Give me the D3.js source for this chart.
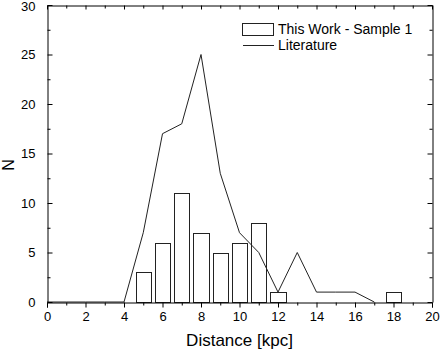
<!DOCTYPE html>
<html>
<head>
<meta charset="utf-8">
<script src="https://cdn.jsdelivr.net/npm/d3@7"></script>
<style>
  body { margin: 0; background: #fff; }
  svg text { font-family: "Liberation Sans", Arial, Helvetica, sans-serif; fill: #000; }
</style>
</head>
<body>
<div id="chart"></div>
<script>
// histogram, this work
var binCenters = [5, 6, 7, 8, 9, 10, 11, 12, 18];
var binCounts  = [3, 6, 11, 7, 5, 6, 8, 1, 1];
// literature curve
var litDistance = [0, 1, 2, 3, 4, 5, 6, 7, 8, 9, 10, 11, 12, 13, 14, 15, 16, 17];
var litCounts   = [0, 0, 0, 0, 0, 7, 17, 18, 25, 13, 7, 5, 1, 5, 1, 1, 1, 0];
var xTicks = [0, 2, 4, 6, 8, 10, 12, 14, 16, 18, 20];
var yTicks = [0, 5, 10, 15, 20, 25, 30];

var width = 441, height = 354;
var margin = {top: 5, right: 9, bottom: 52, left: 47};

var svg = d3.select("#chart").append("svg")
    .attr("width", width)
    .attr("height", height);

var x = d3.scaleLinear().domain([0, 20]).range([margin.left, width - margin.right]);
var y = d3.scaleLinear().domain([0, 30]).range([height - margin.bottom, margin.top]);

var binWidth = 0.8;

// bars
svg.selectAll("rect.bar")
    .data(binCenters)
    .enter()
    .append("rect")
    .attr("class", "bar")
    .attr("x", function(d){ return Math.round(x(d - binWidth/2)) + 0.5; })
    .attr("width", function(d){ return Math.round(x(d + binWidth/2)) - Math.round(x(d - binWidth/2)); })
    .attr("y", function(d, i){ return Math.round(y(binCounts[i])) + 0.5; })
    .attr("height", function(d, i){ return Math.round(y(0)) - Math.round(y(binCounts[i])); })
    .attr("fill", "#fff")
    .attr("stroke", "#222")
    .attr("stroke-width", 1);

// literature line
var line = d3.line()
    .x(function(d, i){ return x(d); })
    .y(function(d, i){ return y(litCounts[i]); });

svg.append("path")
    .datum(litDistance)
    .attr("d", line)
    .attr("fill", "none")
    .attr("stroke", "#222")
    .attr("stroke-width", 1);

// axes: bottom ticks out, the other three in
var xMinor = d3.range(0, 21, 1);
var yMinor = d3.range(0, 31, 2.5);

svg.append("g")
    .attr("transform", "translate(0," + (y(0) + 0.5) + ")")
    .call(d3.axisBottom(x).tickValues(xTicks).tickSize(5).tickPadding(4).tickFormat(d3.format("d")));
svg.append("g")
    .attr("transform", "translate(0," + (y(0) + 0.5) + ")")
    .call(d3.axisBottom(x).tickValues(xMinor.filter(function(d){ return d % 2; })).tickSize(3).tickFormat(""))
    .select(".domain").remove();

var left = svg.append("g")
    .attr("transform", "translate(" + (x(0) + 0.5) + ",0)")
    .call(d3.axisLeft(y).tickValues(yTicks).tickSizeInner(-5).tickSizeOuter(0).tickPadding(12));
// keep the top label inside the window
left.selectAll(".tick text").filter(function(d){ return d === 30; }).attr("dy", "0.45em");
svg.append("g")
    .attr("transform", "translate(" + (x(0) + 0.5) + ",0)")
    .call(d3.axisLeft(y).tickValues(yMinor.filter(function(d){ return d % 5; })).tickSize(-3).tickFormat(""))
    .select(".domain").remove();

svg.append("g")
    .attr("transform", "translate(0," + (y(30) + 0.5) + ")")
    .call(d3.axisTop(x).tickValues(xTicks).tickSizeInner(-4).tickSizeOuter(0).tickFormat(""));
svg.append("g")
    .attr("transform", "translate(0," + (y(30) + 0.5) + ")")
    .call(d3.axisTop(x).tickValues(xMinor.filter(function(d){ return d % 2; })).tickSize(-3).tickFormat(""))
    .select(".domain").remove();

svg.append("g")
    .attr("transform", "translate(" + (x(20) + 0.5) + ",0)")
    .call(d3.axisRight(y).tickValues(yTicks).tickSizeInner(-5).tickSizeOuter(0).tickFormat(""));
svg.append("g")
    .attr("transform", "translate(" + (x(20) + 0.5) + ",0)")
    .call(d3.axisRight(y).tickValues(yMinor.filter(function(d){ return d % 5; })).tickSize(-3).tickFormat(""))
    .select(".domain").remove();

svg.selectAll(".domain, .tick line").attr("stroke", "#000");
svg.selectAll(".tick text")
    .style("font-size", "13px")
    .style("font-family", "'Liberation Sans', Arial, sans-serif");

// axis titles
svg.append("text")
    .attr("x", (x(0) + x(20)) / 2)
    .attr("y", 346)
    .attr("text-anchor", "middle")
    .style("font-size", "17px")
    .text("Distance [kpc]");

svg.append("text")
    .attr("transform", "translate(13.5,165) rotate(-90)")
    .attr("text-anchor", "middle")
    .style("font-size", "16px")
    .text("N");

// legend
var legend = svg.append("g");
legend.append("rect")
    .attr("x", 242.5).attr("y", 23.5)
    .attr("width", 31).attr("height", 12)
    .attr("fill", "#fff").attr("stroke", "#222");
legend.append("text")
    .attr("x", 278).attr("y", 34)
    .style("font-size", "14px")
    .text("This Work - Sample 1");
legend.append("line")
    .attr("x1", 243).attr("x2", 274)
    .attr("y1", 45.5).attr("y2", 45.5)
    .attr("stroke", "#222");
legend.append("text")
    .attr("x", 278).attr("y", 50)
    .style("font-size", "14px")
    .text("Literature");
</script>
</body>
</html>
